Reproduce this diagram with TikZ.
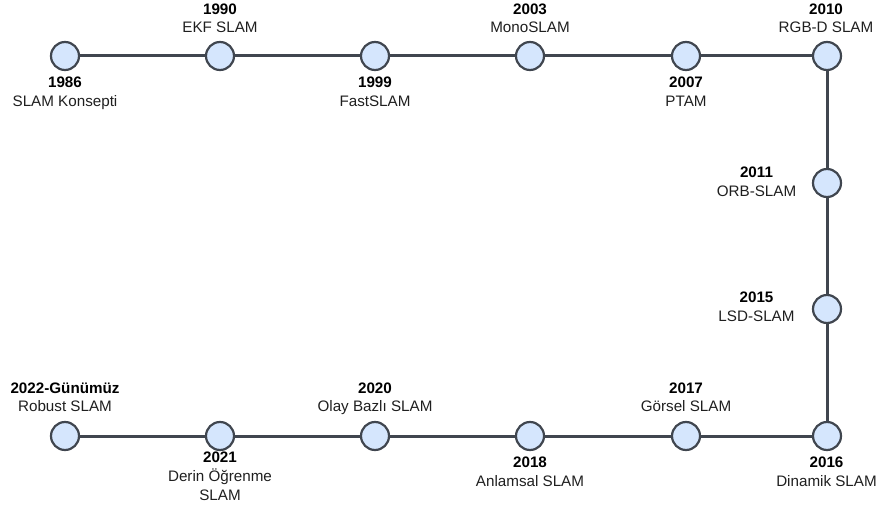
\documentclass[tikz,border=0pt]{standalone}
\usepackage{fontspec}
\setmainfont{Liberation Sans}
\definecolor{linegray}{HTML}{40464F}
\definecolor{dotfill}{HTML}{D5E6FD}
\tikzset{
  x=1bp, y=-1bp,
  event/.style={circle, draw=linegray, line width=2.2bp, fill=dotfill,
                minimum size=28bp, inner sep=0pt},
  link/.style={draw=linegray, line width=3bp},
  yr/.style={anchor=base, font=\fontsize{15.2bp}{18bp}\selectfont\bfseries,
             text=black, inner sep=0pt},
  nm/.style={anchor=base, font=\fontsize{15.2bp}{18bp}\selectfont,
             text=black!88, inner sep=0pt}
}
\begin{document}
\begin{tikzpicture}
\useasboundingbox (0,0) rectangle (879,506);

% milestones
\node[event] (e1986) at (65,56) {};
\node[event] (e1990) at (220,56) {};
\node[event] (e1999) at (375,56) {};
\node[event] (e2003) at (530,56) {};
\node[event] (e2007) at (686,56) {};
\node[event] (e2010) at (827,56) {};
\node[event] (e2011) at (827,183) {};
\node[event] (e2015) at (827,309) {};
\node[event] (e2016) at (827,436) {};
\node[event] (e2017) at (686,436) {};
\node[event] (e2018) at (530,436) {};
\node[event] (e2020) at (375,436) {};
\node[event] (e2021) at (220,436) {};
\node[event] (e2022) at (65,436) {};

% timeline path
\draw[link] (e1986) -- (e1990);
\draw[link] (e1990) -- (e1999);
\draw[link] (e1999) -- (e2003);
\draw[link] (e2003) -- (e2007);
\draw[link] (e2007) -- (e2010);
\draw[link] (e2010) -- (e2011);
\draw[link] (e2011) -- (e2015);
\draw[link] (e2015) -- (e2016);
\draw[link] (e2016) -- (e2017);
\draw[link] (e2017) -- (e2018);
\draw[link] (e2018) -- (e2020);
\draw[link] (e2020) -- (e2021);
\draw[link] (e2021) -- (e2022);

% top row labels
\node[yr] (y1986) at (65,88) {1986};
\node[nm] (n1986) at (65,107) {SLAM Konsepti};
\node[yr] (y1990) at (220,15) {1990};
\node[nm] (n1990) at (220,33) {EKF SLAM};
\node[yr] (y1999) at (375,88) {1999};
\node[nm] (n1999) at (375,107) {FastSLAM};
\node[yr] (y2003) at (530,15) {2003};
\node[nm] (n2003) at (530,33) {MonoSLAM};
\node[yr] (y2007) at (686,88) {2007};
\node[nm] (n2007) at (686,107) {PTAM};
\node[yr] (y2010) at (826,15) {2010};
\node[nm] (n2010) at (826,33) {RGB-D SLAM};

% right column labels
\node[yr] (y2011) at (756.5,178) {2011};
\node[nm] (n2011) at (756.5,197) {ORB-SLAM};
\node[yr] (y2015) at (756.5,303) {2015};
\node[nm] (n2015) at (756.5,322) {LSD-SLAM};

% bottom row labels
\node[yr] (y2016) at (826.5,467) {2016};
\node[nm] (n2016) at (826.5,486) {Dinamik SLAM};
\node[yr] (y2017) at (686,393) {2017};
\node[nm] (n2017) at (686,411) {Görsel SLAM};
\node[yr] (y2018) at (530,467) {2018};
\node[nm] (n2018) at (530,486) {Anlamsal SLAM};
\node[yr] (y2020) at (375,393) {2020};
\node[nm] (n2020) at (375,411) {Olay Bazlı SLAM};
\node[yr] (y2021) at (220,462) {2021};
\node[nm] (n2021) at (220,481) {Derin Öğrenme};
\node[nm] (m2021) at (220,500) {SLAM};
\node[yr] (y2022) at (65,393) {2022-Günümüz};
\node[nm] (n2022) at (65,411) {Robust SLAM};
\end{tikzpicture}
\end{document}
